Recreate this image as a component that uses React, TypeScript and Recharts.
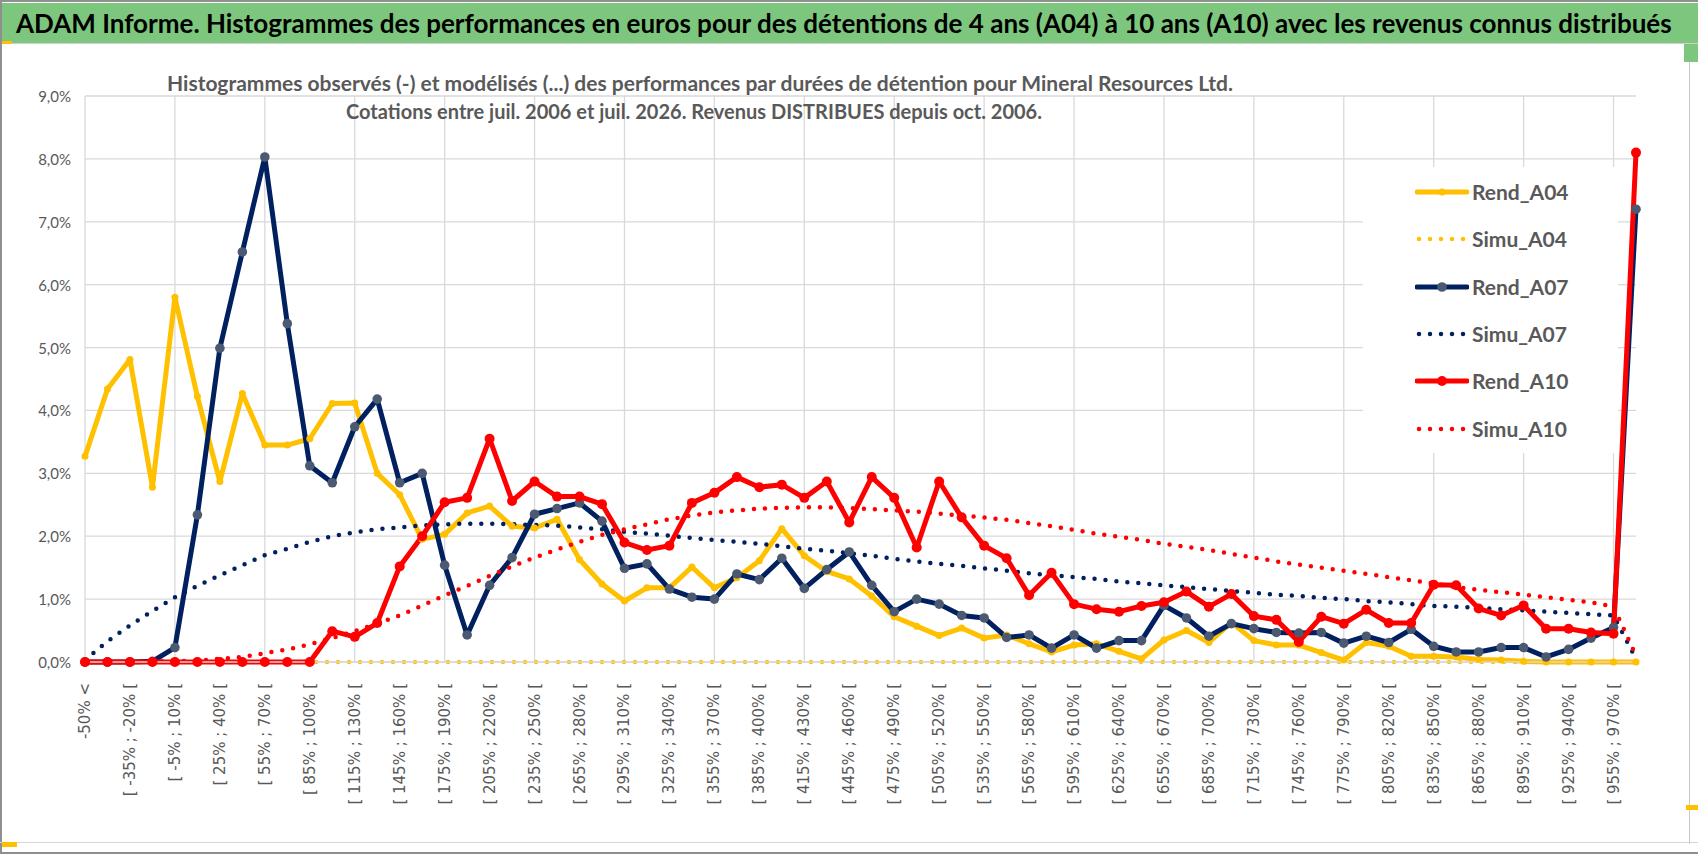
import React from "react";
import { LineChart, Line, XAxis, YAxis, CartesianGrid, ReferenceLine } from "recharts";

const categories = [
  "-50% <", "[ -50% ; -35% [", "[ -35% ; -20% [", "[ -20% ; -5% [", "[ -5% ; 10% [",
  "[ 10% ; 25% [", "[ 25% ; 40% [", "[ 40% ; 55% [", "[ 55% ; 70% [", "[ 70% ; 85% [",
  "[ 85% ; 100% [", "[ 100% ; 115% [", "[ 115% ; 130% [", "[ 130% ; 145% [", "[ 145% ; 160% [",
  "[ 160% ; 175% [", "[ 175% ; 190% [", "[ 190% ; 205% [", "[ 205% ; 220% [", "[ 220% ; 235% [",
  "[ 235% ; 250% [", "[ 250% ; 265% [", "[ 265% ; 280% [", "[ 280% ; 295% [", "[ 295% ; 310% [",
  "[ 310% ; 325% [", "[ 325% ; 340% [", "[ 340% ; 355% [", "[ 355% ; 370% [", "[ 370% ; 385% [",
  "[ 385% ; 400% [", "[ 400% ; 415% [", "[ 415% ; 430% [", "[ 430% ; 445% [", "[ 445% ; 460% [",
  "[ 460% ; 475% [", "[ 475% ; 490% [", "[ 490% ; 505% [", "[ 505% ; 520% [", "[ 520% ; 535% [",
  "[ 535% ; 550% [", "[ 550% ; 565% [", "[ 565% ; 580% [", "[ 580% ; 595% [", "[ 595% ; 610% [",
  "[ 610% ; 625% [", "[ 625% ; 640% [", "[ 640% ; 655% [", "[ 655% ; 670% [", "[ 670% ; 685% [",
  "[ 685% ; 700% [", "[ 700% ; 715% [", "[ 715% ; 730% [", "[ 730% ; 745% [", "[ 745% ; 760% [",
  "[ 760% ; 775% [", "[ 775% ; 790% [", "[ 790% ; 805% [", "[ 805% ; 820% [", "[ 820% ; 835% [",
  "[ 835% ; 850% [", "[ 850% ; 865% [", "[ 865% ; 880% [", "[ 880% ; 895% [", "[ 895% ; 910% [",
  "[ 910% ; 925% [", "[ 925% ; 940% [", "[ 940% ; 955% [", "[ 955% ; 970% [", "970% >",
];

// valeurs en %
const rendA04 = [
  3.27, 4.34, 4.81, 2.78, 5.8, 4.22, 2.87, 4.27, 3.45, 3.45,
  3.55, 4.11, 4.12, 3.0, 2.66, 1.95, 2.03, 2.37, 2.48, 2.16,
  2.13, 2.27, 1.63, 1.24, 0.97, 1.18, 1.18, 1.51, 1.18, 1.34,
  1.61, 2.12, 1.69, 1.44, 1.32, 1.05, 0.72, 0.57, 0.42, 0.54,
  0.38, 0.43, 0.29, 0.16, 0.27, 0.29, 0.17, 0.05, 0.35, 0.5,
  0.31, 0.63, 0.34, 0.27, 0.27, 0.15, 0.03, 0.31, 0.25, 0.09,
  0.09, 0.08, 0.04, 0.03, 0.01, 0.0, 0.0, 0.0, 0.0, 0.0,
];

const simuA04 = [
  0, 0, 0, 0, 0, 0, 0, 0, 0, 0,
  0, 0, 0, 0, 0, 0, 0, 0, 0, 0,
  0, 0, 0, 0, 0, 0, 0, 0, 0, 0,
  0, 0, 0, 0, 0, 0, 0, 0, 0, 0,
  0, 0, 0, 0, 0, 0, 0, 0, 0, 0,
  0, 0, 0, 0, 0, 0, 0, 0, 0, 0,
  0, 0, 0, 0, 0, 0, 0, 0, 0, 0,
];

const rendA07 = [
  0, 0, 0, 0.01, 0.23, 2.34, 4.99, 6.52, 8.03, 5.38,
  3.12, 2.85, 3.74, 4.18, 2.85, 3.0, 1.54, 0.43, 1.22, 1.66,
  2.35, 2.44, 2.53, 2.24, 1.49, 1.56, 1.16, 1.03, 1.0, 1.4,
  1.31, 1.65, 1.17, 1.47, 1.75, 1.22, 0.8, 1.0, 0.92, 0.74,
  0.7, 0.39, 0.43, 0.22, 0.43, 0.22, 0.34, 0.34, 0.9, 0.7,
  0.41, 0.61, 0.53, 0.47, 0.46, 0.47, 0.3, 0.41, 0.31, 0.52,
  0.25, 0.16, 0.16, 0.23, 0.23, 0.08, 0.2, 0.38, 0.55, 7.2,
];

const simuA07 = [
  0.03, 0.33, 0.58, 0.81, 1.03, 1.21, 1.38, 1.54, 1.7, 1.8,
  1.91, 2.0, 2.06, 2.11, 2.14, 2.17, 2.19, 2.2, 2.2, 2.19,
  2.18, 2.17, 2.14, 2.11, 2.07, 2.04, 2.01, 1.97, 1.94, 1.91,
  1.88, 1.84, 1.8, 1.77, 1.73, 1.69, 1.64, 1.6, 1.56, 1.53,
  1.49, 1.45, 1.41, 1.38, 1.35, 1.32, 1.28, 1.25, 1.22, 1.19,
  1.16, 1.13, 1.1, 1.07, 1.05, 1.02, 1.0, 0.97, 0.95, 0.92,
  0.89, 0.88, 0.86, 0.84, 0.82, 0.8, 0.78, 0.76, 0.74, 0.05,
];

const rendA10 = [
  0, 0, 0, 0, 0, 0, 0, 0, 0, 0,
  0, 0.49, 0.4, 0.62, 1.52, 2.0, 2.54, 2.61, 3.55, 2.56,
  2.87, 2.63, 2.63, 2.51, 1.9, 1.78, 1.85, 2.53, 2.69, 2.94,
  2.78, 2.82, 2.61, 2.87, 2.22, 2.94, 2.61, 1.82, 2.87, 2.3,
  1.85, 1.65, 1.06, 1.42, 0.92, 0.84, 0.8, 0.89, 0.95, 1.12,
  0.88, 1.08, 0.73, 0.67, 0.32, 0.72, 0.61, 0.83, 0.62, 0.62,
  1.23, 1.22, 0.85, 0.74, 0.9, 0.53, 0.53, 0.47, 0.45, 8.1,
];

const simuA10 = [
  0.0, 0.0, 0.0, 0.01, 0.01, 0.02, 0.05, 0.08, 0.14, 0.2,
  0.28, 0.38, 0.49, 0.61, 0.74, 0.9, 1.06, 1.21, 1.37, 1.52,
  1.66, 1.79, 1.91, 2.02, 2.11, 2.19, 2.27, 2.33, 2.38, 2.41,
  2.44, 2.45, 2.46, 2.46, 2.45, 2.43, 2.41, 2.39, 2.36, 2.33,
  2.3, 2.26, 2.21, 2.16, 2.1, 2.04, 1.99, 1.94, 1.88, 1.83,
  1.78, 1.72, 1.66, 1.6, 1.55, 1.5, 1.45, 1.4, 1.35, 1.3,
  1.25, 1.19, 1.15, 1.11, 1.07, 1.03, 0.99, 0.95, 0.88, 0.1,
];

const yTicks = [0, 1, 2, 3, 4, 5, 6, 7, 8, 9];

const series = [
  { name: "Rend_A04", values: rendA04, color: "#FFC000", dotted: false, marker: "#FFC000", r: 3.5 },
  { name: "Simu_A04", values: simuA04, color: "#FFC000", dotted: true, marker: "", r: 0 },
  { name: "Rend_A07", values: rendA07, color: "#002060", dotted: false, marker: "#4B5A70", r: 4.8 },
  { name: "Simu_A07", values: simuA07, color: "#002060", dotted: true, marker: "", r: 0 },
  { name: "Rend_A10", values: rendA10, color: "#FF0000", dotted: false, marker: "#FF0000", r: 5 },
  { name: "Simu_A10", values: simuA10, color: "#FF0000", dotted: true, marker: "", r: 0 },
];

const data = categories.map((cat, i) => {
  const row: Record<string, string | number> = { cat };
  series.forEach((s) => (row[s.name] = s.values[i]));
  return row;
});

const gridCats = categories.filter((_, i) => i % 4 === 0);

const GRID = "#d9d9d9";
const TEXT = "#595959";

function fmtPct(v: number) {
  return `${v.toFixed(1).replace(".", ",")}%`;
}

function XTick({ x, payload }: any) {
  return (
    <text
      transform={`translate(${x},683) rotate(-90)`}
      textAnchor="end"
      dominantBaseline="central"
      fill={TEXT}
      fontSize={15}
      fontFamily="DejaVu Sans"
    >
      {payload.value}
    </text>
  );
}

function YTick({ y, payload }: any) {
  return (
    <text x={71} y={y} textAnchor="end" dominantBaseline="central" fill={TEXT} fontSize={15} fontFamily="Lato">
      {fmtPct(payload.value)}
    </text>
  );
}

function LegendBox() {
  return (
    <div
      style={{
        position: "absolute",
        left: 1363,
        top: 167,
        width: 255,
        height: 286,
        background: "#fff",
      }}
    >
      {series.map((s, i) => (
        <div
          key={s.name}
          style={{ position: "absolute", left: 0, top: 25 + i * 47.3 - 15, height: 30, width: 255 }}
        >
          <svg width={54} height={30} style={{ position: "absolute", left: 52, top: 0 }}>
            {s.dotted ? (
              <line x1={4} y1={15} x2={50} y2={15} stroke={s.color} strokeWidth={4.5} strokeDasharray="0 11" strokeLinecap="round" />
            ) : (
              <>
                <line x1={2} y1={15} x2={52} y2={15} stroke={s.color} strokeWidth={5} strokeLinecap="round" />
                <circle cx={27} cy={15} r={s.r} fill={s.marker} />
              </>
            )}
          </svg>
          <div
            style={{
              position: "absolute",
              left: 109,
              top: 0,
              lineHeight: "30px",
              fontSize: 21,
              fontWeight: 700,
              color: TEXT,
              fontFamily: "Lato",
              whiteSpace: "nowrap",
            }}
          >
            {s.name}
          </div>
        </div>
      ))}
    </div>
  );
}

export default function App() {
  return (
    <div
      style={{
        position: "absolute",
        left: 0,
        top: 0,
        width: 1698,
        height: 854,
        background: "#fff",
        overflow: "hidden",
        fontFamily: "Lato",
      }}
    >
      <LineChart
        width={1698}
        height={854}
        data={data}
        margin={{ top: 96, right: 62, bottom: 0, left: 0 }}
      >
        <CartesianGrid vertical={false} stroke={GRID} strokeWidth={1.3} />
        {gridCats.map((c) => (
          <ReferenceLine key={c} x={c} stroke={GRID} strokeWidth={1.3} />
        ))}
        <XAxis
          dataKey="cat"
          interval={1}
          tickLine={false}
          axisLine={{ stroke: GRID, strokeWidth: 1.3 }}
          height={192}
          tick={<XTick />}
        />
        <YAxis
          domain={[0, 9]}
          ticks={yTicks}
          width={85}
          axisLine={false}
          tickLine={false}
          tick={<YTick />}
        />
        {series.map((s) =>
          s.dotted ? (
            <Line
              key={s.name}
              dataKey={s.name}
              type="linear"
              stroke={s.color}
              strokeWidth={4.5}
              strokeDasharray="0 11"
              strokeLinecap="round"
              dot={false}
              activeDot={false}
              isAnimationActive={false}
            />
          ) : (
            <Line
              key={s.name}
              dataKey={s.name}
              type="linear"
              stroke={s.color}
              strokeWidth={5}
              strokeLinejoin="round"
              dot={{ r: s.r, fill: s.marker, stroke: "none" }}
              activeDot={false}
              isAnimationActive={false}
            />
          )
        )}
      </LineChart>

      {/* cadre et bandeau */}
      <div style={{ position: "absolute", left: 0, top: 0, width: 1698, height: 2, background: "#8f8f8f" }} />
      <div style={{ position: "absolute", left: 0, top: 0, width: 2, height: 854, background: "#8f8f8f" }} />
      <div style={{ position: "absolute", left: 0, top: 852, width: 1698, height: 2, background: "#8f8f8f" }} />
      <div style={{ position: "absolute", left: 1689, top: 44, width: 1, height: 800, background: "#c8c8c8" }} />
      <div style={{ position: "absolute", left: 0, top: 842, width: 1698, height: 1, background: "#d6d6d6" }} />
      <div
        style={{
          position: "absolute",
          left: 2,
          top: 3,
          width: 1696,
          height: 40,
          background: "#7dc67d",
        }}
      />
      <div style={{ position: "absolute", left: 2, top: 43, width: 1696, height: 1, background: "#d0d0d0" }} />
      <div style={{ position: "absolute", left: 2, top: 41, width: 10, height: 3, background: "#FFC000" }} />
      <div style={{ position: "absolute", left: 2, top: 842, width: 15, height: 5, background: "#FFC000" }} />
      <div style={{ position: "absolute", left: 1684, top: 44, width: 14, height: 18, background: "#7dc67d" }} />
      <div style={{ position: "absolute", left: 1686, top: 805, width: 12, height: 5, background: "#FFC000" }} />
      <div
        style={{
          position: "absolute",
          left: 16,
          top: 3,
          height: 40,
          lineHeight: "40px",
          fontSize: 26,
          fontWeight: 700,
          color: "#000",
          whiteSpace: "nowrap",
        }}
      >
        ADAM Informe. Histogrammes des performances en euros pour des détentions de 4 ans (A04) à 10 ans (A10) avec les revenus connus distribués
      </div>

      <div
        style={{
          position: "absolute",
          left: 50,
          width: 1300,
          top: 69,
          textAlign: "center",
          fontWeight: 700,
          color: TEXT,
          lineHeight: "28px",
          whiteSpace: "nowrap",
        }}
      >
        <div style={{ fontSize: 21 }}>
          Histogrammes observés (-) et modélisés (...) des performances par durées de détention pour Mineral Resources Ltd.
        </div>
        <div style={{ fontSize: 20, marginLeft: -12 }}>
          Cotations entre juil. 2006 et juil. 2026. Revenus DISTRIBUES depuis oct. 2006.
        </div>
      </div>

      <LegendBox />
    </div>
  );
}
